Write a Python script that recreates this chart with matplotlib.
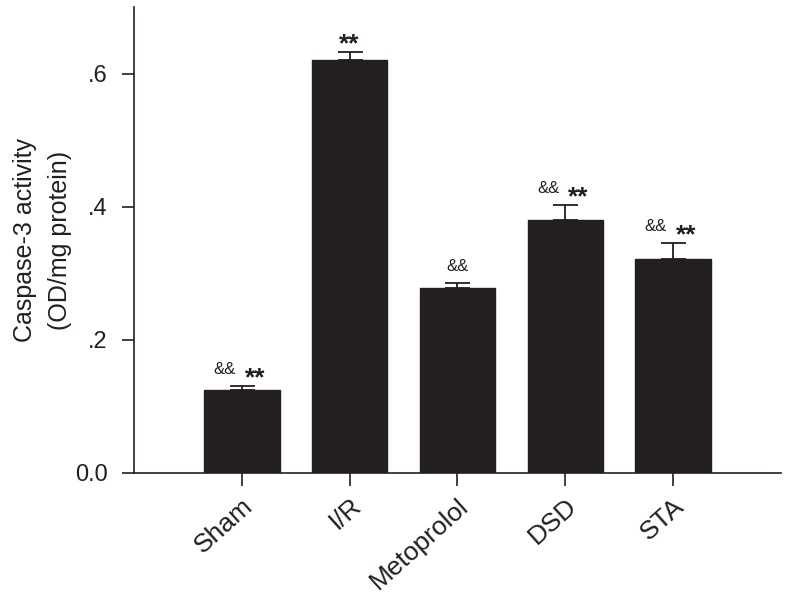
import matplotlib
matplotlib.use("Agg")
import matplotlib.pyplot as plt

plt.rcParams['font.family'] = ['Liberation Sans', 'DejaVu Sans']

groups = ["Sham", "I/R", "Metoprolol", "DSD", "STA"]
means = [0.124, 0.620, 0.278, 0.380, 0.322]
errors = [0.007, 0.013, 0.007, 0.022, 0.023]
amp_marks = ["&&", "", "&&", "&&", "&&"]
star_marks = ["**", "**", "", "**", "**"]

ytick_vals = [0.0, 0.2, 0.4, 0.6]
ytick_labels = ["0.0", ".2", ".4", ".6"]

bar_color = "#231f20"

fig = plt.figure(figsize=(7.88, 5.94), dpi=100)
ax = fig.add_axes([0.170, 0.204, 0.821, 0.784])

x = list(range(len(groups)))
ax.bar(x, means, width=0.7, color=bar_color, edgecolor=bar_color,
       yerr=[[0] * len(errors), errors], capsize=9,
       error_kw=dict(ecolor=bar_color, elinewidth=1.3, capthick=1.3))

# significance marks above each error bar
for i in x:
    top = means[i] + errors[i]
    amp, star = amp_marks[i], star_marks[i]
    amp_x, star_x = (i - 0.16, i + 0.12) if (amp and star) else (i, i)
    if amp:
        ax.text(amp_x, top + 0.018, amp, ha="center", va="baseline",
                fontsize=12, color=bar_color)
    if star:
        ax.text(star_x, top + 0.001, star, ha="center", va="baseline",
                fontsize=19, fontweight="bold", color=bar_color)

ax.set_xlim(-1, 5)
ax.set_ylim(0, 0.7)
ax.set_xticks(x)
ax.set_xticklabels(groups, rotation=42, ha="right", rotation_mode="anchor",
                   fontsize=19)
ax.set_yticks(ytick_vals)
ax.set_yticklabels(ytick_labels, fontsize=17)
ax.tick_params(direction="out", length=9, width=1.2, color=bar_color,
               labelcolor=bar_color)
ax.tick_params(axis="y", pad=10)
ax.tick_params(axis="x", pad=6)

for side in ["top", "right"]:
    ax.spines[side].set_visible(False)
for side in ["left", "bottom"]:
    ax.spines[side].set_linewidth(1.2)
    ax.spines[side].set_color(bar_color)

ax.set_ylabel("Caspase-3 activity\n(OD/mg protein)", fontsize=18,
              color=bar_color, labelpad=2, linespacing=1.6)

fig.savefig("out.png", dpi=100)
